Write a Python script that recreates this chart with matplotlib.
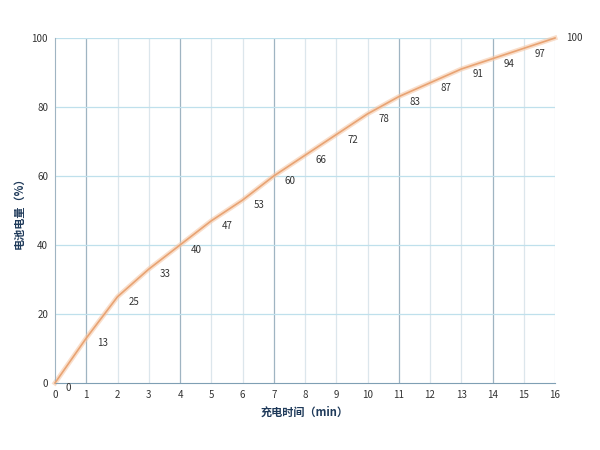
import matplotlib
matplotlib.use("Agg")
import matplotlib.pyplot as plt

x = list(range(17))
y = [0, 13, 25, 33, 40, 47, 53, 60, 66, 72, 78, 83, 87, 91, 94, 97, 100]
xticks = list(range(17))
yticks = [0, 20, 40, 60, 80, 100]
dark_x = [1, 4, 7, 11, 14]

plt.rcParams['font.family'] = ['Noto Sans CJK SC', 'DejaVu Sans']
fig = plt.figure(figsize=(6, 4.5), dpi=100)
ax = fig.add_axes([55/600, 1-383/450, 500/600, 345/450])
ax.set_xlim(0, 16)
ax.set_ylim(0, 100)
for xv in xticks[1:]:
    c = '#9fb4c2' if xv in dark_x else '#dce6ec'
    ax.axvline(xv, color=c, lw=0.9, zorder=0)
for yv in yticks[1:]:
    ax.axhline(yv, color='#bfe0ec', lw=0.9, zorder=0)
ax.plot(x, y, color='#f5c8a8', lw=3.5, alpha=0.6, zorder=2, clip_on=False)
ax.plot(x, y, color='#e8a373', lw=1.2, zorder=3, clip_on=False)
for xv, yv in zip(x, y):
    dy = 0 if yv == 100 else -1.5
    ax.text(xv + 0.35, yv + dy, str(yv), fontsize=7, color='#333333', va='center', ha='left')
ax.set_xticks(xticks)
ax.set_yticks(yticks)
ax.tick_params(length=0, labelsize=7, colors='#333333', pad=5)
for s in ['top', 'right']:
    ax.spines[s].set_visible(False)
ax.spines['left'].set_color('#9fb4c2')
ax.spines['bottom'].set_color('#7f9fb4')
ax.set_xlabel('充电时间（min）', fontsize=8, fontweight='bold', color='#1f3a5a')
ax.set_ylabel('电池电量（%）', fontsize=8, fontweight='bold', color='#1f3a5a')
fig.savefig('out.png', dpi=100)
